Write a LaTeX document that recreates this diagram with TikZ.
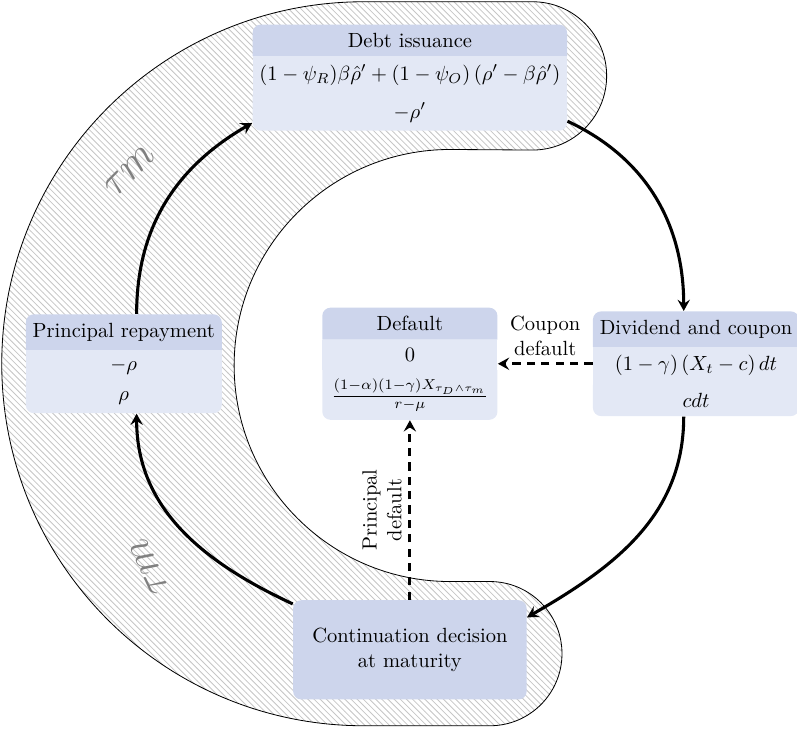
\documentclass[tikz,border=0pt]{standalone}
\usepackage{amsmath}
\usepackage{amssymb}
\usepackage{tikz}
\usepackage{xcolor}
\usetikzlibrary{shapes.multipart, arrows.meta, positioning, patterns, calc}

\definecolor{hdr}{RGB}{205,213,236}
\definecolor{bdy}{RGB}{227,232,245}

\begin{document}
\begin{tikzpicture}[
    block/.style={rectangle split, rectangle split parts=3, rectangle split part fill={hdr,bdy,bdy}, rounded corners, minimum width=3cm, inner ysep=4pt},
    decision/.style={rectangle, fill=hdr, rounded corners, align=center, minimum width=4cm, minimum height=1.7cm},
    arrow/.style={-{Stealth[length=5.5pt, width=6pt, inset=2pt]}, line width=1.5pt},
    dasharrow/.style={arrow, dash pattern=on 4pt off 3pt},
    tau/.style={gray, font=\huge}
]
\useasboundingbox (-7.02,-6.27) rectangle (6.63,6.23);

% hatched band
\draw[pattern=north west lines, pattern color=gray!45]
    (-0.79,6.2) -- (2.1,6.2) arc[start angle=90, end angle=-90, radius=1.27]
    -- (0.69,3.67) arc[start angle=90, end angle=270, radius=3.7]
    -- (1.37,-3.73) arc[start angle=90, end angle=-90, radius=1.235]
    -- (-0.79,-6.2) arc[start angle=270, end angle=90, radius=6.2] -- cycle;

\node[tau, rotate=45] (tauup) at (-4.8,3.3) {$\tau m$};
\node[tau, rotate=115] (taudown) at (-4.47,-3.48) {$\tau m$};

\node[block] (debt) at (0,4.9) {Debt issuance
    \nodepart{two} $(1-\psi_R)\beta\hat{\rho}' + (1-\psi_O)\left(\rho'-\beta\hat{\rho}'\right)$
    \nodepart{three} $-\rho'$};
\node[block] (repay) at (-4.9,0) {Principal repayment
    \nodepart{two} $-\rho$
    \nodepart{three} $\rho$};
\node[block] (dflt) at (0,0) {Default
    \nodepart{two} $0$
    \nodepart{three} $\frac{(1-\alpha)(1-\gamma)X_{\tau_D\wedge\tau_m}}{r-\mu}$};
\node[block] (div) at (4.9,0) {Dividend and coupon
    \nodepart{two} $(1-\gamma)\left(X_t-c\right)dt$
    \nodepart{three} $cdt$};
\node[decision] (cont) at (0,-4.9) {Continuation decision\\at maturity};

\draw[arrow] ([xshift=0.22cm]repay.north) to[out=90, in=210] ([yshift=0.14cm]debt.south west);
\draw[arrow] ([yshift=0.17cm]debt.south east) to[out=-25, in=90] ([xshift=-0.21cm]div.north);
\draw[arrow] ([xshift=-0.21cm]div.south) to[out=-90, in=30] ([yshift=-0.3cm]cont.north east);
\draw[arrow] ([yshift=-0.07cm]cont.north west) to[out=155, in=-90] ([xshift=0.22cm]repay.south);

\draw[dasharrow] (div.west) -- node[above, align=center] {Coupon\\default} (dflt.east);
\draw[dasharrow] (cont.north) -- node[above, rotate=90, align=center] {Principal\\default} (dflt.south);

\end{tikzpicture}
\end{document}
